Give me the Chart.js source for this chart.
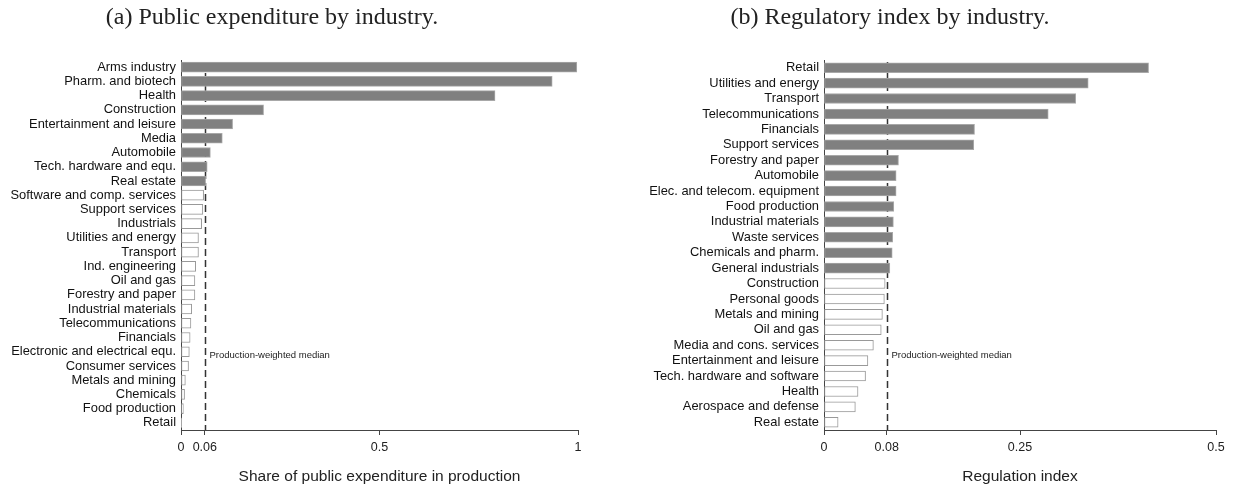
<!DOCTYPE html>
<html><head><meta charset="utf-8">
<script src="https://cdn.jsdelivr.net/npm/chart.js@4"></script>
<style>
body{margin:0;background:#fff;width:1235px;height:491px;overflow:hidden;position:relative;font-family:"Liberation Sans",Arial,sans-serif}
.title{position:absolute;top:3px;font-family:"Liberation Serif",serif;font-size:24px;color:#222;white-space:nowrap;transform:translateX(-50%);z-index:2}
#wa{position:absolute;left:0;top:0;width:617px;height:491px}
#wb{position:absolute;left:617px;top:0;width:618px;height:491px}
</style></head><body>
<div class="title" style="left:272px">(a) Public expenditure by industry.</div>
<div class="title" style="left:890px">(b) Regulatory index by industry.</div>
<div id="wa"><canvas id="ca"></canvas></div>
<div id="wb"><canvas id="cb"></canvas></div>
<script>
// ---- Data: panel (a)
const expCategories = ["Arms industry","Pharm. and biotech","Health","Construction","Entertainment and leisure","Media","Automobile","Tech. hardware and equ.","Real estate","Software and comp. services","Support services","Industrials","Utilities and energy","Transport","Ind. engineering","Oil and gas","Forestry and paper","Industrial materials","Telecommunications","Financials","Electronic and electrical equ.","Consumer services","Metals and mining","Chemicals","Food production","Retail"];
const expValues = [0.997,0.935,0.791,0.208,0.130,0.104,0.074,0.066,0.062,0.057,0.055,0.052,0.044,0.044,0.037,0.035,0.035,0.027,0.025,0.023,0.021,0.019,0.011,0.009,0.006,0.001];
const expTicks = [0,0.06,0.5,1];
const expMedian = 0.06;

// ---- Data: panel (b)
const regCategories = ["Retail","Utilities and energy","Transport","Telecommunications","Financials","Support services","Forestry and paper","Automobile","Elec. and telecom. equipment","Food production","Industrial materials","Waste services","Chemicals and pharm.","General industrials","Construction","Personal goods","Metals and mining","Oil and gas","Media and cons. services","Entertainment and leisure","Tech. hardware and software","Health","Aerospace and defense","Real estate"];
const regValues = [0.414,0.337,0.321,0.286,0.192,0.191,0.095,0.092,0.092,0.089,0.0885,0.0876,0.087,0.084,0.078,0.077,0.0745,0.073,0.063,0.056,0.053,0.0434,0.040,0.018];
const regTicks = [0,0.08,0.25,0.5];
const regMedian = 0.08;

Chart.defaults.font.family = '"Liberation Sans", Arial, sans-serif';

const medianPlugin = {
  id: 'median',
  beforeDatasetsDraw(chart, args, opts) {
    const {ctx, chartArea, scales: {x}} = chart;
    const px = Math.round(x.getPixelForValue(opts.value)) + 0.5;
    ctx.save();
    ctx.strokeStyle = '#333';
    ctx.lineWidth = 1.5;
    ctx.setLineDash([7, 4]);
    ctx.beginPath();
    ctx.moveTo(px, chartArea.top + 2);
    ctx.lineTo(px, chartArea.bottom);
    ctx.stroke();
    ctx.setLineDash([]);
    ctx.fillStyle = '#222';
    ctx.font = '9.5px "Liberation Sans", Arial, sans-serif';
    ctx.textBaseline = 'middle';
    ctx.fillText(opts.label, px + 4, chartArea.top + 0.798 * (chartArea.bottom - chartArea.top));
    ctx.restore();
  }
};

function makeChart(id, labels, values, median, ticks, max, axisTitle, yWidth, padRight) {
  return new Chart(document.getElementById(id), {
    type: 'bar',
    data: {
      labels: labels,
      datasets: [{
        data: values,
        backgroundColor: values.map(v => v > median ? '#808080' : '#ffffff'),
        borderColor: values.map(v => v > median ? '#a8a8a8' : '#999999'),
        borderWidth: 1,
        borderSkipped: false,
        barThickness: 10
      }]
    },
    options: {
      indexAxis: 'y',
      responsive: true,
      maintainAspectRatio: false,
      animation: false,
      layout: {padding: {top: 60, right: padRight, bottom: 0, left: 0}},
      plugins: {
        legend: {display: false},
        tooltip: {enabled: false},
        median: {value: median, label: 'Production-weighted median'}
      },
      scales: {
        x: {
          type: 'linear', min: 0, max: max,
          afterBuildTicks: s => { s.ticks = ticks.map(v => ({value: v})); },
          afterFit: s => { s.height = 61; },
          grid: {display: true, drawOnChartArea: false, drawTicks: true, tickLength: 5, color: '#444', lineWidth: 1},
          border: {display: true, color: '#444', width: 1},
          ticks: {color: '#222', font: {size: 12.5}, padding: 5, autoSkip: false, maxRotation: 0, callback: v => String(v)},
          title: {display: true, text: axisTitle, color: '#222', font: {size: 15.5}, padding: {top: 0, bottom: 5}}
        },
        y: {
          afterFit: s => { s.width = yWidth; },
          grid: {display: false, drawTicks: false},
          border: {display: true, color: '#444', width: 1},
          ticks: {color: '#111', font: {size: 12.9}, padding: 5, autoSkip: false}
        }
      }
    },
    plugins: [medianPlugin]
  });
}

makeChart('ca', expCategories, expValues, expMedian, expTicks, 1, 'Share of public expenditure in production', 181, 39);
makeChart('cb', regCategories, regValues, regMedian, regTicks, 0.5, 'Regulation index', 207, 19);
</script>
</body></html>
